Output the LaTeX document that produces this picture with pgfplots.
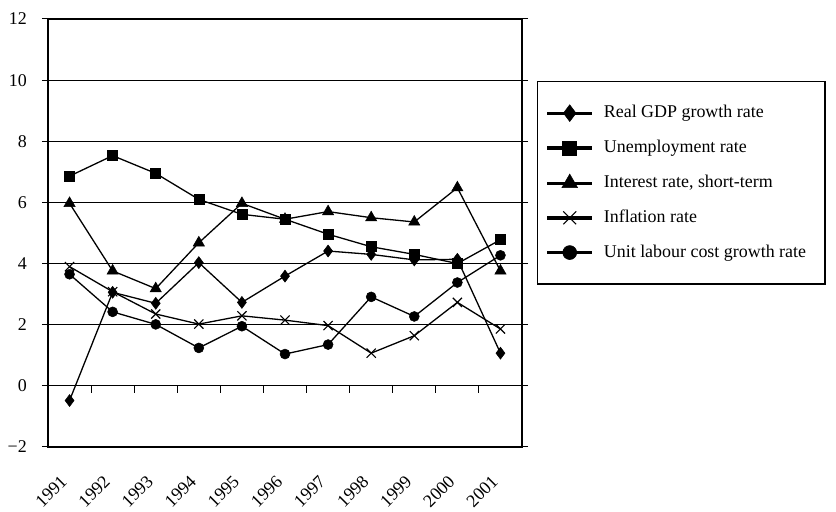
\documentclass[border=0pt]{standalone}
\usepackage{fontspec}
\setmainfont{Liberation Serif}
\usepackage{pgfplots}
\pgfplotsset{compat=1.18}
\begin{document}
\begin{tikzpicture}[x=1bp,y=1bp]
\path[use as bounding box] (0,0) rectangle (836,512);
\begin{axis}[
  at={(48bp,65bp)}, anchor=south west,
  scale only axis, width=474bp, height=428bp,
  xmin=-0.5, xmax=10.5, ymin=-2, ymax=12,
  xtick={0,1,2,3,4,5,6,7,8,9,10},
  xticklabels={1991,1992,1993,1994,1995,1996,1997,1998,1999,2000,2001},
  x tick style={draw=none},
  xticklabel style={inner sep=0bp, xshift=-10bp, yshift=-21bp, rotate=45, anchor=north east},
  ytick={-2,0,2,4,6,8,10,12},
  yticklabels={−2,0,2,4,6,8,10,12},
  yticklabel style={inner sep=0bp, xshift=-15bp},
  ymajorgrids, grid style={black, line width=1bp},
  y tick style={black, line width=1bp},
  tick align=outside, major tick length=6bp,
  axis line style={line width=1.3bp},
  tick label style={font=\fontsize{18}{20}\selectfont},
  /pgf/number format/assume math mode=true,
  every axis plot/.append style={black, line width=1.3bp},
  legend style={at={(1.0316,0.855)}, anchor=north west, draw=black, line width=1.2bp,
    inner xsep=8bp, inner ysep=23bp, row sep=17.7bp,
    font=\fontsize{18}{20}\selectfont,
    nodes={inner sep=0bp, text height=13bp, text depth=4bp},
    /tikz/every odd column/.append style={column sep=10bp}},
  legend cell align=left,
  legend image code/.code={
    \draw[#1, line width=3.3bp, mark=none] (0bp,0bp) -- (45bp,0bp);
    \draw[#1, every mark/.append style={scale=1.4}] plot[only marks] coordinates {(22.5bp,0bp)};
  },
]
\addplot[mark=diamond*, mark size=6bp, mark options={fill=black, line width=0.5bp}] coordinates {
(0,-0.48) (1,3.06) (2,2.70) (3,4.03) (4,2.73) (5,3.59) (6,4.41) (7,4.30) (8,4.12) (9,4.14) (10,1.07)};
\addlegendentry{Real GDP growth rate}
\addplot[mark=square*, mark size=5bp, mark options={fill=black, line width=0.5bp}] coordinates {
(0,6.86) (1,7.53) (2,6.95) (3,6.10) (4,5.61) (5,5.45) (6,4.96) (7,4.55) (8,4.30) (9,4.00) (10,4.78)};
\addlegendentry{Unemployment rate}
\addplot[mark=triangle*, mark size=6.5bp, mark options={fill=black, line width=0.5bp}] coordinates {
(0,5.97) (1,3.76) (2,3.18) (3,4.68) (4,5.97) (5,5.45) (6,5.70) (7,5.50) (8,5.36) (9,6.48) (10,3.76)};
\addlegendentry{Interest rate, short-term}
\addplot[mark=x, mark size=6.5bp, mark options={line width=1.1bp}] coordinates {
(0,3.90) (1,3.08) (2,2.35) (3,2.02) (4,2.29) (5,2.15) (6,1.97) (7,1.07) (8,1.64) (9,2.73) (10,1.86)};
\addlegendentry{Inflation rate}
\addplot[mark=*, mark size=5bp, mark options={fill=black, line width=0.5bp}] coordinates {
(0,3.65) (1,2.42) (2,2.01) (3,1.24) (4,1.95) (5,1.04) (6,1.35) (7,2.91) (8,2.27) (9,3.38) (10,4.27)};
\addlegendentry{Unit labour cost growth rate\hspace*{11bp}}
\pgfplotsinvokeforeach{0.5,1.5,2.5,3.5,4.5,5.5,6.5,7.5,8.5,9.5}{
  \draw[line width=1bp] (axis cs:#1,0) -- ([yshift=-7bp]axis cs:#1,0);
}
\end{axis}
\end{tikzpicture}
\end{document}
